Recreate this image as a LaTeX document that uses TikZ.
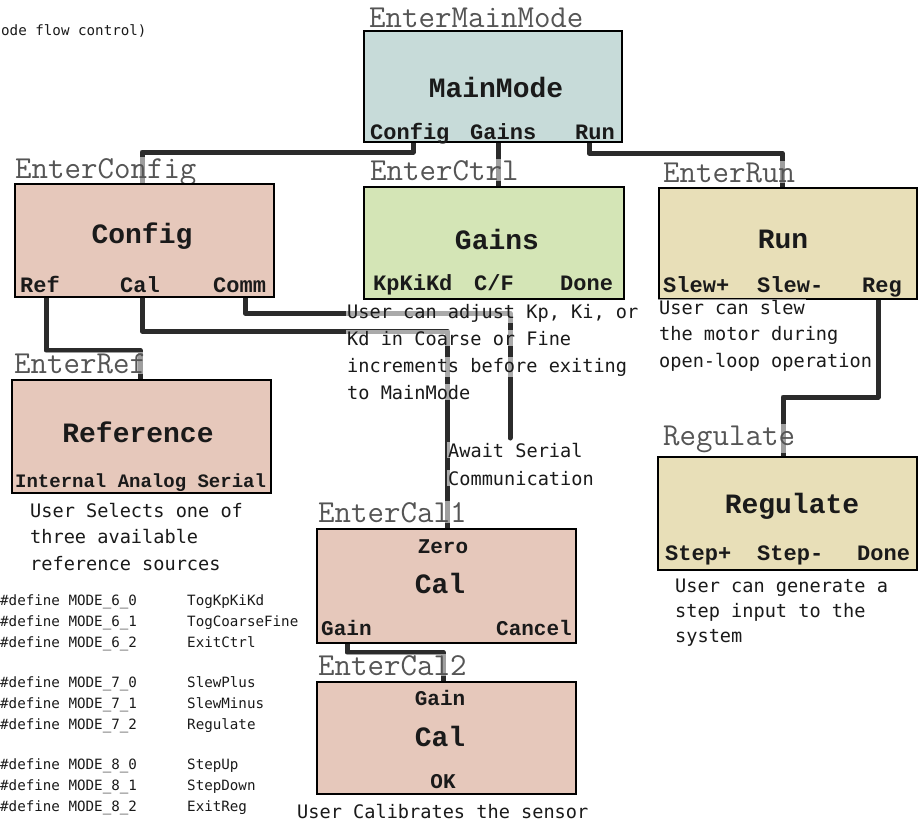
\documentclass[tikz,border=0pt]{standalone}
\usepackage{fontspec}
\newfontfamily\descf{DejaVu Sans Mono}
\newfontfamily\boxf{Liberation Mono}
\newfontfamily\entf{Latin Modern Mono}
\definecolor{mmfill}{HTML}{C7DBD9}
\definecolor{pinkfill}{HTML}{E6C8BB}
\definecolor{greenfill}{HTML}{D4E5B6}
\definecolor{tanfill}{HTML}{E8DFB8}
\definecolor{linec}{HTML}{2B2B2B}
\definecolor{entc}{HTML}{555555}
\definecolor{txtc}{HTML}{1A1A1A}
\begin{document}
\begin{tikzpicture}[x=1pt,y=-1pt,
  conn/.style={line width=5pt, draw=linec, line cap=round, line join=round},
  box/.style={draw=black, line width=2.5pt, anchor=north west, inner sep=0pt, outer sep=0pt},
  enter/.style={anchor=base west, font=\entf\fontsize{32}{32}\selectfont, text=entc, fill=white, fill opacity=0.55, text opacity=1, inner sep=1pt},
  ttl/.style={anchor=base, font=\boxf\bfseries\fontsize{28}{28}\selectfont, text=txtc, inner sep=0pt},
  port/.style={anchor=base west, font=\boxf\bfseries\fontsize{22}{22}\selectfont, text=txtc, inner sep=0pt},
  portc/.style={anchor=base, font=\boxf\bfseries\fontsize{21}{21}\selectfont, text=txtc, inner sep=0pt},
  desc/.style={anchor=base west, font=\descf\fontsize{18.6}{18.6}\selectfont, text=txtc, fill=white, fill opacity=0.6, text opacity=1, inner sep=1pt},
  defs/.style={anchor=base west, font=\descf\fontsize{14.2}{14.2}\selectfont, text=txtc, inner sep=0pt}]
\useasboundingbox (0,0) rectangle (919,822);

% ---------- port / entry coordinates ----------
\coordinate (mmC) at (413,142);
\coordinate (mmG) at (498,142);
\coordinate (mmR) at (589,142);
\coordinate (cfgIn) at (142,184);
\coordinate (ctlIn) at (498,187);
\coordinate (runIn) at (782,188);
\coordinate (cfgRef) at (46,297);
\coordinate (cfgCal) at (142,297);
\coordinate (cfgComm) at (245,297);
\coordinate (refIn) at (140,380);
\coordinate (cal1In) at (447,529);
\coordinate (await) at (510,438);
\coordinate (runReg) at (878,299);
\coordinate (regIn) at (783,457);
\coordinate (cal1Gain) at (347,643);
\coordinate (cal2In) at (443,682);

% ---------- connectors ----------
\draw[conn] (mmC) -- ++(0,10) -| (cfgIn);
\draw[conn] (mmG) -- (ctlIn);
\draw[conn] (mmR) -- ++(0,11) -| (runIn);
\draw[conn] (cfgRef) -- ++(0,53) -| (refIn);
\draw[conn] (cfgCal) -- ++(0,34) -| (cal1In);
\draw[conn] (cfgComm) -- ++(0,16) -| (await);
\draw[conn] (runReg) -- ++(0,98) -| (regIn);
\draw[conn] (cal1Gain) -- ++(0,9) -| (cal2In);

% ---------- entry labels ----------
\node[enter] (lMM) at (368,27) {EnterMainMode};
\node[enter] (lCfg) at (14,178) {EnterConfig};
\node[enter] (lCtl) at (369,180) {EnterCtrl};
\node[enter] (lRun) at (662,182) {EnterRun};
\node[enter] (lRef) at (13,373) {EnterRef};
\node[enter] (lReg) at (662,445) {Regulate};
\node[enter] (lCal1) at (317,522) {EnterCal1};
\node[enter] (lCal2) at (317,675) {EnterCal2};

% ---------- boxes ----------
\node[box, fill=mmfill, minimum width=258, minimum height=111] (mm) at (364,31) {};
\node[box, fill=pinkfill, minimum width=259, minimum height=113] (cfg) at (15,184) {};
\node[box, fill=greenfill, minimum width=260, minimum height=112] (ctl) at (364,187) {};
\node[box, fill=tanfill, minimum width=258, minimum height=111] (run) at (659,188) {};
\node[box, fill=pinkfill, minimum width=259, minimum height=113] (ref) at (12,380) {};
\node[box, fill=tanfill, minimum width=259, minimum height=113] (reg) at (658,457) {};
\node[box, fill=pinkfill, minimum width=259, minimum height=114] (cal1) at (317,529) {};
\node[box, fill=pinkfill, minimum width=259, minimum height=112] (cal2) at (317,682) {};

% ---------- box texts ----------
\node[ttl] (tMM) at (496,97) {MainMode};
\node[port] (pMMC) at (370,139) {Config};
\node[port] (pMMG) at (470,139) {Gains};
\node[port] (pMMR) at (575,139) {Run};

\node[ttl] (tCfg) at (142,243) {Config};
\node[port] (pRef) at (20,292) {Ref};
\node[port] (pCal) at (120,292) {Cal};
\node[port] (pComm) at (213,292) {Comm};

\node[ttl] (tCtl) at (497,249) {Gains};
\node[port] (pK) at (373,290) {KpKiKd};
\node[port] (pCF) at (474,290) {C/F};
\node[port] (pDone) at (560,290) {Done};

\node[ttl] (tRun) at (783,248) {Run};
\node[port] (pSp) at (663,292) {Slew+};
\node[port] (pSm) at (757,292) {Slew-};
\node[port] (pReg) at (862,292) {Reg};

\node[ttl] (tRef) at (138,442) {Reference};
\node[anchor=base west, font=\boxf\bfseries\fontsize{19}{19}\selectfont, text=txtc, inner sep=0pt] (pIAS) at (15,487) {Internal Analog Serial};

\node[ttl] (tReg) at (792,513) {Regulate};
\node[port] (pStp) at (665,560) {Step+};
\node[port] (pStm) at (757,560) {Step-};
\node[port] (pRDone) at (857,560) {Done};

\node[portc] (pZero) at (443,553) {Zero};
\node[ttl] (tCal1) at (440,593) {Cal};
\node[anchor=base west, font=\boxf\bfseries\fontsize{21}{21}\selectfont, text=txtc, inner sep=0pt] (pGain1) at (321,635) {Gain};
\node[anchor=base east, font=\boxf\bfseries\fontsize{21}{21}\selectfont, text=txtc, inner sep=0pt] (pCancel) at (572,635) {Cancel};

\node[portc] (pGain2) at (440,705) {Gain};
\node[ttl] (tCal2) at (440,746) {Cal};
\node[portc] (pOK) at (443,788) {OK};

% ---------- descriptions ----------
\node[desc] (dG1) at (346,318) {User can adjust Kp, Ki, or};
\node[desc] (dG2) at (346,345) {Kd in Coarse or Fine};
\node[desc] (dG3) at (346,372) {increments before exiting};
\node[desc] (dG4) at (346,399) {to MainMode};

\node[desc] (dR1) at (658,314) {User can slew};
\node[desc] (dR2) at (658,340.5) {the motor during};
\node[desc] (dR3) at (658,367) {open-loop operation};

\node[desc] (dF1) at (29,517) {User Selects one of};
\node[desc] (dF2) at (29,543.5) {three available};
\node[desc] (dF3) at (29,570) {reference sources};

\node[desc] (dA1) at (447,457) {Await Serial};
\node[desc] (dA2) at (447,485) {Communication};

\node[desc] (dS1) at (674,592) {User can generate a};
\node[desc] (dS2) at (674,617) {step input to the};
\node[desc] (dS3) at (674,642) {system};

\node[desc] (dC) at (296,818) {User Calibrates the sensor};

% ---------- title fragment ----------
\node[defs] (hdr) at (1,35) {ode flow control)};

% ---------- defines ----------
\foreach \y/\a/\b in {605/MODE\_6\_0/TogKpKiKd, 626/MODE\_6\_1/TogCoarseFine, 647/MODE\_6\_2/ExitCtrl,
                      687/MODE\_7\_0/SlewPlus, 708/MODE\_7\_1/SlewMinus, 729/MODE\_7\_2/Regulate,
                      769/MODE\_8\_0/StepUp, 790/MODE\_8\_1/StepDown, 811/MODE\_8\_2/ExitReg}{
  \node[defs] at (0,\y) {\#define \a};
  \node[defs] at (187,\y) {\b};
}
\end{tikzpicture}
\end{document}
